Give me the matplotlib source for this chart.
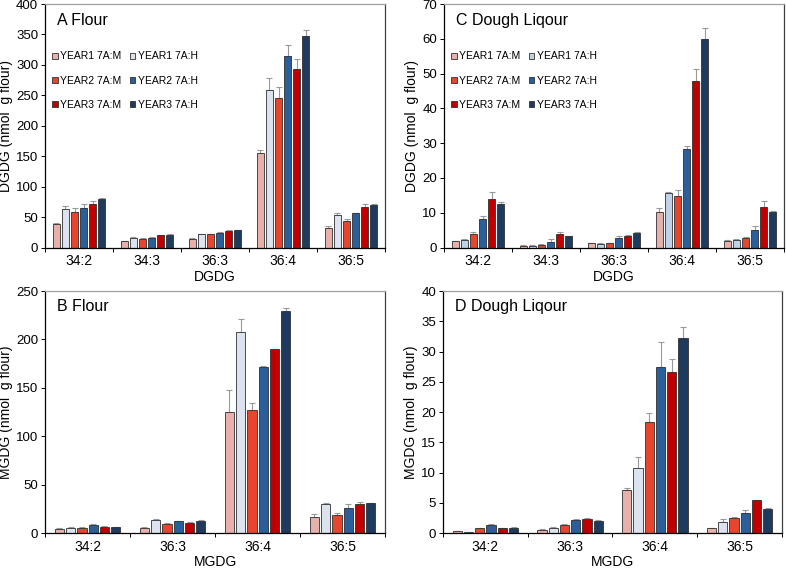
import matplotlib
matplotlib.use("Agg")
import matplotlib.pyplot as plt
import numpy as np

plt.rcParams['font.family'] = ['Liberation Sans', 'DejaVu Sans']

# series names
series = ["YEAR1 7A:M", "YEAR1 7A:H", "YEAR2 7A:M", "YEAR2 7A:H", "YEAR3 7A:M", "YEAR3 7A:H"]

# A Flour - DGDG
dgdg_cats = ["34:2", "34:3", "36:3", "36:4", "36:5"]
a_vals = [[38, 10, 14, 155, 32],
          [64, 16, 22, 258, 54],
          [59, 14, 22, 245, 44],
          [65, 15, 24, 315, 56],
          [72, 20, 27, 294, 66],
          [80, 21, 28, 348, 70]]
a_err = [[3, 1, 1, 6, 3],
         [5, 1, 1, 20, 3],
         [6, 1, 1, 18, 3],
         [6, 2, 1, 18, 1],
         [5, 1, 1.5, 15, 5],
         [2, 1, 1.5, 10, 2]]

# C Dough Liqour - DGDG
c_vals = [[1.8, 0.5, 1.3, 10.3, 2.0],
          [2.2, 0.5, 1.1, 15.7, 2.3],
          [4.0, 0.8, 1.3, 14.8, 2.8],
          [8.2, 1.7, 2.6, 28.3, 5.1],
          [14.0, 3.9, 3.3, 48.0, 11.6],
          [12.4, 3.3, 4.2, 59.8, 10.1]]
c_err = [[0.2, 0.1, 0.1, 1.0, 0.1],
         [0.2, 0.1, 0.1, 0.3, 0.1],
         [0.5, 0.1, 0.1, 1.6, 0.2],
         [1.0, 0.8, 0.8, 0.8, 1.0],
         [2.0, 0.6, 0.2, 3.2, 1.9],
         [0.8, 0.1, 0.3, 3.3, 0.5]]

# B Flour - MGDG
mgdg_cats = ["34:2", "36:3", "36:4", "36:5"]
b_vals = [[4.5, 5.5, 125.5, 17],
          [5.5, 13.5, 208, 30],
          [5.5, 9.5, 127, 19],
          [8, 12, 172, 25.5],
          [6, 10.5, 190, 29.5],
          [6, 12, 229, 30.5]]
b_err = [[0.5, 0.5, 22, 3],
         [0.5, 1, 13, 1.5],
         [0.5, 0.5, 7, 2],
         [1, 0.5, 0.5, 4],
         [1.5, 0.5, 0.5, 3],
         [0.5, 1.5, 3, 1]]

# D Dough Liqour - MGDG
d_vals = [[0.3, 0.5, 7.1, 0.8],
          [0.1, 0.9, 10.7, 1.9],
          [0.8, 1.3, 18.4, 2.4],
          [1.3, 2.1, 27.5, 3.3],
          [0.8, 2.3, 26.6, 5.4],
          [0.9, 2.0, 32.3, 4.0]]
d_err = [[0.05, 0.1, 0.4, 0.05],
         [0.05, 0.1, 1.8, 0.4],
         [0.05, 0.2, 1.5, 0.2],
         [0.2, 0.2, 4.0, 0.5],
         [0.1, 0.2, 2.2, 0.1],
         [0.1, 0.1, 1.7, 0.2]]

colors = ["#e8b0aa", "#dce3ef", "#e8452f", "#2b5f9c", "#c00000", "#1f3a5f"]
colors_c = ["#e8b0aa", "#bfd2e8", "#e8452f", "#2b5f9c", "#c00000", "#1f3a5f"]


def panel(ax, cats, vals, errs, cols, ymax, ystep, title, xlabel, ylabel, legend=False):
    n = len(cats)
    x = np.arange(n)
    slot = 0.133
    width = 0.11
    for i in range(len(series)):
        off = (i - 2.5) * slot
        ax.bar(x + off, vals[i], width, color=cols[i], edgecolor="#303030",
               linewidth=0.6, label=series[i], zorder=2)
        ax.errorbar(x + off, vals[i], yerr=[np.zeros(n), errs[i]], fmt="none",
                    ecolor="#999999", elinewidth=0.8, capsize=2, capthick=0.8, zorder=1)
    ax.set_xlim(-0.5, n - 0.5)
    ax.set_ylim(0, ymax)
    ax.set_yticks(np.arange(0, ymax + 0.1, ystep))
    ax.set_xticks(x)
    ax.set_xticklabels(cats)
    ax.set_xticks(np.arange(-0.5, n), minor=True)
    ax.tick_params(axis="x", which="major", length=0, labelsize=10, pad=5)
    ax.tick_params(axis="x", which="minor", length=3, direction="out", width=0.7)
    ax.tick_params(axis="y", length=3, direction="out", labelsize=9.5, width=0.7, pad=2)
    ax.spines["top"].set_color("#a0a0a0")
    ax.spines["right"].set_color("#404040")
    ax.spines["left"].set_color("black")
    ax.spines["bottom"].set_color("black")
    for s in ax.spines.values():
        s.set_linewidth(0.9)
    ax.set_xlabel(xlabel, fontsize=10, labelpad=1)
    ax.set_ylabel(ylabel, fontsize=10, labelpad=2)
    ax.text(0.035, 0.965, title, transform=ax.transAxes, fontsize=11.5, va="top", ha="left")
    if legend:
        h, l = ax.get_legend_handles_labels()
        order = [0, 2, 4, 1, 3, 5]
        ax.legend([h[k] for k in order], [l[k] for k in order],
                  loc="upper left", bbox_to_anchor=(0.0, 0.835), ncol=2, fontsize=7.5,
                  frameon=False, handlelength=0.5, handleheight=0.5, handletextpad=0.25,
                  labelspacing=1.35, columnspacing=0.8, borderaxespad=0.3)


fig = plt.figure(figsize=(7.86, 5.73), dpi=100)
axA = fig.add_axes([0.0573, 0.568, 0.4326, 0.425])
axC = fig.add_axes([0.5649, 0.568, 0.4326, 0.425])
axB = fig.add_axes([0.0573, 0.0698, 0.4326, 0.4223])
axD = fig.add_axes([0.5636, 0.0698, 0.4313, 0.4223])

panel(axA, dgdg_cats, a_vals, a_err, colors, 400, 50, "A Flour", "DGDG",
      "DGDG (nmol  g flour)", legend=True)
panel(axC, dgdg_cats, c_vals, c_err, colors_c, 70, 10, "C Dough Liqour", "DGDG",
      "DGDG (nmol  g flour)", legend=True)
panel(axB, mgdg_cats, b_vals, b_err, colors, 250, 50, "B Flour", "MGDG",
      "MGDG (nmol  g flour)")
panel(axD, mgdg_cats, d_vals, d_err, colors, 40, 5, "D Dough Liqour", "MGDG",
      "MGDG (nmol  g flour)")

fig.savefig("out.png", dpi=100)
